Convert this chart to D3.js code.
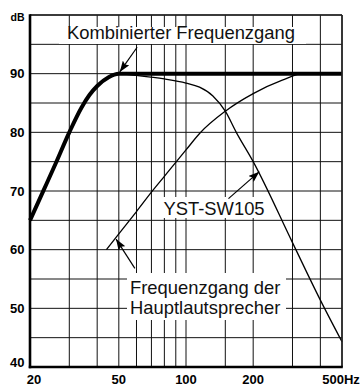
<!DOCTYPE html>
<html>
<head>
<meta charset="utf-8">
<script src="https://cdn.jsdelivr.net/npm/d3@7"></script>
<style>
  html, body { margin: 0; padding: 0; background: #fff; }
  svg { display: block; }
</style>
</head>
<body>
<svg id="chart" width="363" height="387"></svg>
<script>
// Axis ticks and grid
const freqTicks = [20, 50, 100, 200, 500];
const freqTickLabels = ["20", "50", "100", "200", "500Hz"];
const freqGrid = [20, 30, 40, 50, 60, 70, 80, 90, 100, 150, 200, 300, 400, 500];
const dbTicks = [90, 80, 70, 60, 50, 40];
const dbGrid = [40, 45, 50, 55, 60, 65, 70, 75, 80, 85, 90, 95, 100];

// Combined response (subwoofer + main speakers)
const combinedFreq = [20, 23, 26, 30, 34, 37, 40, 45, 50, 60, 100, 200, 500];
const combinedDb   = [65, 70.1, 74.6, 80, 84.2, 86.4, 87.9, 89.4, 90, 90, 90, 90, 90];

// Main speaker response
const mainFreq = [50, 60, 80, 100, 115, 132, 150, 168, 200, 300, 400, 500];
const mainDb   = [90, 89.7, 89.1, 88.4, 87.7, 86.2, 83.6, 80, 75, 61.2, 51.4, 44.3];

// YST-SW105 response
const subFreq = [44, 50, 60, 70, 80, 100, 115, 150, 200, 270, 335, 500];
const subDb   = [60, 62.7, 66.5, 69.8, 72.5, 77, 79.8, 83.6, 86.6, 88.9, 90, 90];

const svg = d3.select("#chart");
const plotLeft = 30, plotRight = 342, plotTop = 15, plotBottom = 367;

const x = d3.scaleLog().domain([20, 500]).range([plotLeft, plotRight]);
const y = d3.scaleLinear().domain([40, 100]).range([plotBottom, plotTop]);

const labelFont = "'Liberation Sans', Arial, Helvetica, sans-serif";

// Grid
const grid = svg.append("g").attr("stroke", "#111").attr("stroke-width", 1);
grid.selectAll("line.v").data(freqGrid).join("line")
  .attr("class", "v")
  .attr("x1", d => x(d)).attr("x2", d => x(d))
  .attr("y1", plotTop).attr("y2", plotBottom);
grid.selectAll("line.h").data(dbGrid).join("line")
  .attr("class", "h")
  .attr("x1", plotLeft).attr("x2", plotRight)
  .attr("y1", d => y(d)).attr("y2", d => y(d));

// White backing boxes for the annotation texts
const boxes = svg.append("g").attr("fill", "#fff");
boxes.append("rect").attr("x", 59).attr("y", 27).attr("width", 247).attr("height", 17);
boxes.append("rect").attr("x", 161).attr("y", 197).attr("width", 106).attr("height", 21);
boxes.append("rect").attr("x", 127).attr("y", 273).attr("width", 159).attr("height", 47);

// Curves
const line = d3.line()
  .x(d => x(d[0]))
  .y(d => y(d[1]))
  .curve(d3.curveMonotoneX);

svg.append("path")
  .datum(d3.zip(mainFreq, mainDb))
  .attr("fill", "none").attr("stroke", "#000").attr("stroke-width", 1.3)
  .attr("d", line);

svg.append("path")
  .datum(d3.zip(subFreq, subDb))
  .attr("fill", "none").attr("stroke", "#000").attr("stroke-width", 1.3)
  .attr("d", line);

svg.append("path")
  .datum(d3.zip(combinedFreq, combinedDb))
  .attr("fill", "none").attr("stroke", "#000").attr("stroke-width", 4)
  .attr("stroke-linejoin", "round")
  .attr("d", line);

// Frame
svg.append("line").attr("x1", plotLeft).attr("x2", plotRight).attr("y1", plotTop).attr("y2", plotTop)
  .attr("stroke", "#222").attr("stroke-width", 1.6);
svg.append("line").attr("x1", plotRight).attr("x2", plotRight).attr("y1", plotTop).attr("y2", plotBottom)
  .attr("stroke", "#222").attr("stroke-width", 1.6);
svg.append("line").attr("x1", plotLeft).attr("x2", plotLeft).attr("y1", plotTop - 0.8).attr("y2", plotBottom + 1.2)
  .attr("stroke", "#000").attr("stroke-width", 2.6);
svg.append("line").attr("x1", plotLeft - 1.2).attr("x2", plotRight + 0.8).attr("y1", plotBottom).attr("y2", plotBottom)
  .attr("stroke", "#000").attr("stroke-width", 2.4);

// Arrows
svg.append("defs").append("marker")
  .attr("id", "head")
  .attr("markerUnits", "userSpaceOnUse")
  .attr("viewBox", "0 0 11 8")
  .attr("refX", 11).attr("refY", 4)
  .attr("markerWidth", 11).attr("markerHeight", 8)
  .attr("orient", "auto")
  .append("path").attr("d", "M0,0 L11,4 L0,8 L2,4 Z").attr("fill", "#000");

const arrows = [
  { from: [60.4, 94.5], to: [50.5, 90.3] },
  { from: [155, 68.7], to: [213, 73.3] },
  { from: [59, 56.8], to: [48.6, 61.8] }
];
svg.append("g").selectAll("line").data(arrows).join("line")
  .attr("x1", d => x(d.from[0])).attr("y1", d => y(d.from[1]))
  .attr("x2", d => x(d.to[0])).attr("y2", d => y(d.to[1]))
  .attr("stroke", "#000").attr("stroke-width", 1.2)
  .attr("marker-end", "url(#head)");

// Annotation texts
const notes = svg.append("g")
  .attr("font-family", labelFont)
  .attr("font-size", 18.4)
  .attr("fill", "#111");
notes.append("text").attr("x", 181).attr("y", 39).attr("text-anchor", "middle")
  .text("Kombinierter Frequenzgang");
notes.append("text").attr("x", 214).attr("y", 214.5).attr("text-anchor", "middle")
  .text("YST-SW105");
notes.append("text").attr("x", 130).attr("y", 293.5).text("Frequenzgang der");
notes.append("text").attr("x", 130).attr("y", 313.5).text("Hauptlautsprecher");

// Axis labels
const axisText = svg.append("g")
  .attr("font-family", labelFont)
  .attr("font-weight", "bold")
  .attr("fill", "#000");

axisText.selectAll("text.xl").data(freqTicks).join("text")
  .attr("class", "xl")
  .attr("x", (d, i) => x(d) + (i === 0 ? 4 : (i === freqTicks.length - 1 ? -1 : 0)))
  .attr("y", 383.5)
  .attr("text-anchor", "middle")
  .attr("font-size", 13)
  .text((d, i) => freqTickLabels[i]);

axisText.selectAll("text.yl").data(dbTicks).join("text")
  .attr("class", "yl")
  .attr("x", 24.5)
  .attr("y", d => y(d) + (d === 40 ? -0.5 : 4.6))
  .attr("text-anchor", "end")
  .attr("font-size", 13)
  .text(d => d);

axisText.append("text")
  .attr("x", 24.5).attr("y", 21)
  .attr("text-anchor", "end")
  .attr("font-size", 10.5)
  .text("dB");
</script>
</body>
</html>
